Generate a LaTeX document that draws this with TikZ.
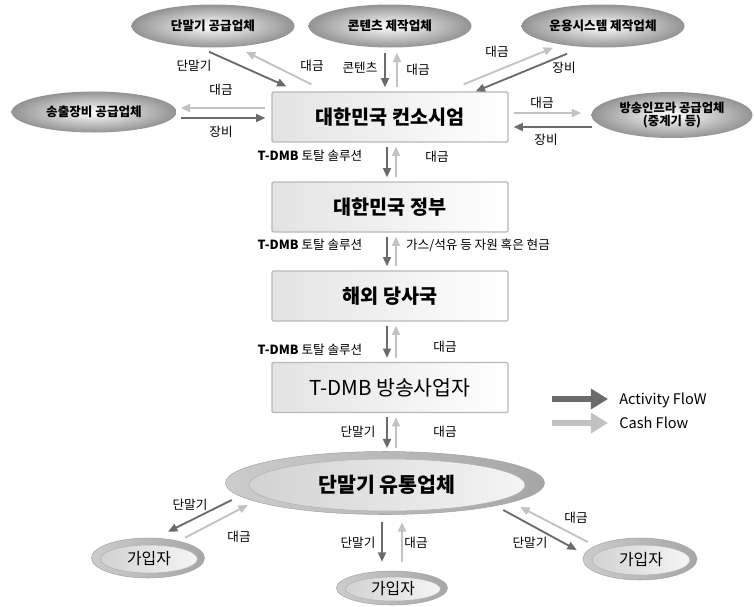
\documentclass[tikz,border=0pt]{standalone}
\usepackage{fontspec}
\setmainfont{Noto Sans CJK KR}
\usetikzlibrary{arrows.meta,shapes.geometric}

\newcommand{\pxu}{0.0265cm}
\definecolor{actgray}{gray}{0.42}
\definecolor{cashgray}{gray}{0.76}

\tikzset{
  act/.style={draw=actgray, line width=1.4pt, -{Triangle[length=7pt,width=6pt]}},
  cash/.style={draw=cashgray, line width=1.4pt, -{Triangle[length=7pt,width=6pt]}},
  supplier/.style={ellipse, inner color=white, outer color=gray!85, inner sep=0pt,
    minimum width=163*\pxu, minimum height=43*\pxu, align=center,
    font=\bfseries\fontsize{9.5}{10}\selectfont},
  stage/.style={rectangle, draw=gray!55, line width=1pt, rounded corners=1pt,
    left color=gray!22, right color=white,
    minimum width=236*\pxu, minimum height=50*\pxu,
    font=\bfseries\fontsize{14.8}{16}\selectfont},
  ring/.style={ellipse, draw=gray!70, left color=gray!40, right color=gray!70, inner sep=0pt},
  core/.style={ellipse, draw=gray!60, left color=gray!35, right color=gray!8, inner sep=0pt},
  lbl/.style={font=\fontsize{9.5}{11}\selectfont, inner sep=0pt},
}

\begin{document}
\begin{tikzpicture}[x=0.0265cm,y=-0.0265cm]
\useasboundingbox (0,0) rectangle (754,606);

% suppliers
\node[supplier] (termsup) at (213,26) {단말기 공급업체};
\node[supplier] (contents) at (390,26) {콘텐츠 제작업체};
\node[supplier] (opsys) at (603,26) {운용시스템 제작업체};
\node[supplier, minimum width=165*\pxu, minimum height=41*\pxu] (txsup) at (94,112) {송출장비 공급업체};
\node[supplier, minimum width=161*\pxu, minimum height=46*\pxu, font=\bfseries\fontsize{9.3}{9.5}\selectfont] (infra) at (672,115) {방송인프라 공급업체\\(중계기 등)};

% chain of boxes
\node[stage] (cons) at (390,117) {대한민국 컨소시엄};
\node[stage] (gov) at (390,207) {대한민국 정부};
\node[stage] (foreign) at (390,296) {해외 당사국};
\node[stage, font=\fontsize{15.5}{17}\selectfont] (bcast) at (390,387.5) {T-DMB 방송사업자};

% distributor and subscribers
\node[ring, minimum width=319*\pxu, minimum height=63*\pxu] (dist) at (385,483) {};
\node[core, minimum width=276*\pxu, minimum height=52*\pxu, font=\bfseries\fontsize{15.5}{17}\selectfont] (distin) at (387,485) {단말기 유통업체};
\node[ring, minimum width=113*\pxu, minimum height=40*\pxu] (subL) at (148,558) {};
\node[core, minimum width=97*\pxu, minimum height=28*\pxu, font=\fontsize{12}{14}\selectfont] (subLin) at (149,559) {가입자};
\node[ring, minimum width=111*\pxu, minimum height=34*\pxu] (subM) at (392,588) {};
\node[core, minimum width=95*\pxu, minimum height=24*\pxu, font=\fontsize{12}{14}\selectfont] (subMin) at (393,589) {가입자};
\node[ring, minimum width=114*\pxu, minimum height=42*\pxu] (subR) at (640,559) {};
\node[core, minimum width=98*\pxu, minimum height=30*\pxu, font=\fontsize{12}{14}\selectfont] (subRin) at (641,560) {가입자};

% flows around the consortium
\draw[act] ([shift={(-4,4)}]termsup.south) -- ([shift={(15,-5)}]cons.north west);
\draw[cash] ([shift={(40,-7)}]cons.north west) -- ([shift={(33,4)}]termsup.south);
\draw[act] ([shift={(-5,5)}]contents.south) -- ([shift={(-5,-4)}]cons.north);
\draw[cash] ([shift={(7,-4)}]cons.north) -- ([shift={(7,5)}]contents.south);
\draw[cash] ([shift={(-45,-7)}]cons.north east) -- ([shift={(-50,0)}]opsys.south);
\draw[act] ([shift={(-36,6)}]opsys.south) -- ([shift={(-33,0)}]cons.north east);
\draw[cash] ([shift={(-6,-9)}]cons.west) -- ([shift={(4,-4)}]txsup.east);
\draw[act] ([shift={(4,6)}]txsup.east) -- ([shift={(-6,1)}]cons.west);
\draw[cash] ([shift={(5,-4)}]cons.east) -- ([shift={(-10,-2)}]infra.west);
\draw[act] ([shift={(1,12)}]infra.west) -- ([shift={(5,10)}]cons.east);

% flows down the chain
\draw[act] ([shift={(-3,4)}]cons.south) -- ([shift={(-3,-4)}]gov.north);
\draw[cash] ([shift={(6,-4)}]gov.north) -- ([shift={(6,4)}]cons.south);
\draw[act] ([shift={(-3,4)}]gov.south) -- ([shift={(-3,-4)}]foreign.north);
\draw[cash] ([shift={(6,-4)}]foreign.north) -- ([shift={(6,4)}]gov.south);
\draw[act] ([shift={(-3,4)}]foreign.south) -- ([shift={(-3,-4)}]bcast.north);
\draw[cash] ([shift={(6,-4)}]bcast.north) -- ([shift={(6,4)}]foreign.south);
\draw[act] ([shift={(-3,4)}]bcast.south) -- ([shift={(2,-3)}]dist.north);
\draw[cash] ([shift={(11,-3)}]dist.north) -- ([shift={(6,4)}]bcast.south);

% flows to subscribers
\draw[act] ([shift={(6.5,17)}]dist.west) -- ([shift={(20,-6)}]subL.north);
\draw[cash] ([shift={(37,0)}]subL.north) -- ([shift={(22.5,22)}]dist.west);
\draw[act] ([shift={(-3,7.5)}]dist.south) -- ([shift={(-10,-9)}]subM.north);
\draw[cash] ([shift={(10,-9)}]subM.north) -- ([shift={(17,7.5)}]dist.south);
\draw[act] ([shift={(-41.5,27)}]dist.east) -- ([shift={(-6,-9)}]subR.west);
\draw[cash] ([shift={(5,-17)}]subR.west) -- ([shift={(-24.5,24)}]dist.east);

% labels
\node[lbl] (l1) at (194,66) {단말기};
\node[lbl] (l2) at (312,66) {대금};
\node[lbl] (l3) at (360,68) {콘텐츠};
\node[lbl] (l4) at (418,70) {대금};
\node[lbl] (l5) at (497,52) {대금};
\node[lbl] (l6) at (564,68) {장비};
\node[lbl] (l7) at (221,90) {대금};
\node[lbl] (l8) at (221,132) {장비};
\node[lbl] (l9) at (542,103) {대금};
\node[lbl] (l10) at (546,140) {장비};
\node[lbl] (l11) at (310,156) {\textbf{T-DMB} 토탈 솔루션};
\node[lbl] (l12) at (437,157) {대금};
\node[lbl] (l13) at (310,245) {\textbf{T-DMB} 토탈 솔루션};
\node[lbl] (l14) at (478,245) {가스/석유 등 자원 혹은 현금};
\node[lbl] (l15) at (310,350) {\textbf{T-DMB} 토탈 솔루션};
\node[lbl] (l16) at (445,347) {대금};
\node[lbl] (l17) at (358,432) {단말기};
\node[lbl] (l18) at (445,432) {대금};
\node[lbl] (l19) at (190,505) {단말기};
\node[lbl] (l20) at (239,537) {대금};
\node[lbl] (l21) at (358,543) {단말기};
\node[lbl] (l22) at (416,543) {대금};
\node[lbl] (l23) at (576,518) {대금};
\node[lbl] (l24) at (530,543) {단말기};

% legend
\coordinate (actA) at (552,399);
\coordinate (actB) at (608,399);
\coordinate (cashA) at (552,423);
\coordinate (cashB) at (608,423);
\draw[actgray, line width=3.8pt, -{Triangle[length=13pt,width=15pt]}] (actA) -- (actB);
\draw[cashgray, line width=3.8pt, -{Triangle[length=13pt,width=15pt]}] (cashA) -- (cashB);
\node[anchor=west, inner sep=0pt, font=\fontsize{11}{13}\selectfont] (actlbl) at (619,400) {Activity FloW};
\node[anchor=west, inner sep=0pt, font=\fontsize{11}{13}\selectfont] (cashlbl) at (619,423) {Cash Flow};
\end{tikzpicture}
\end{document}
